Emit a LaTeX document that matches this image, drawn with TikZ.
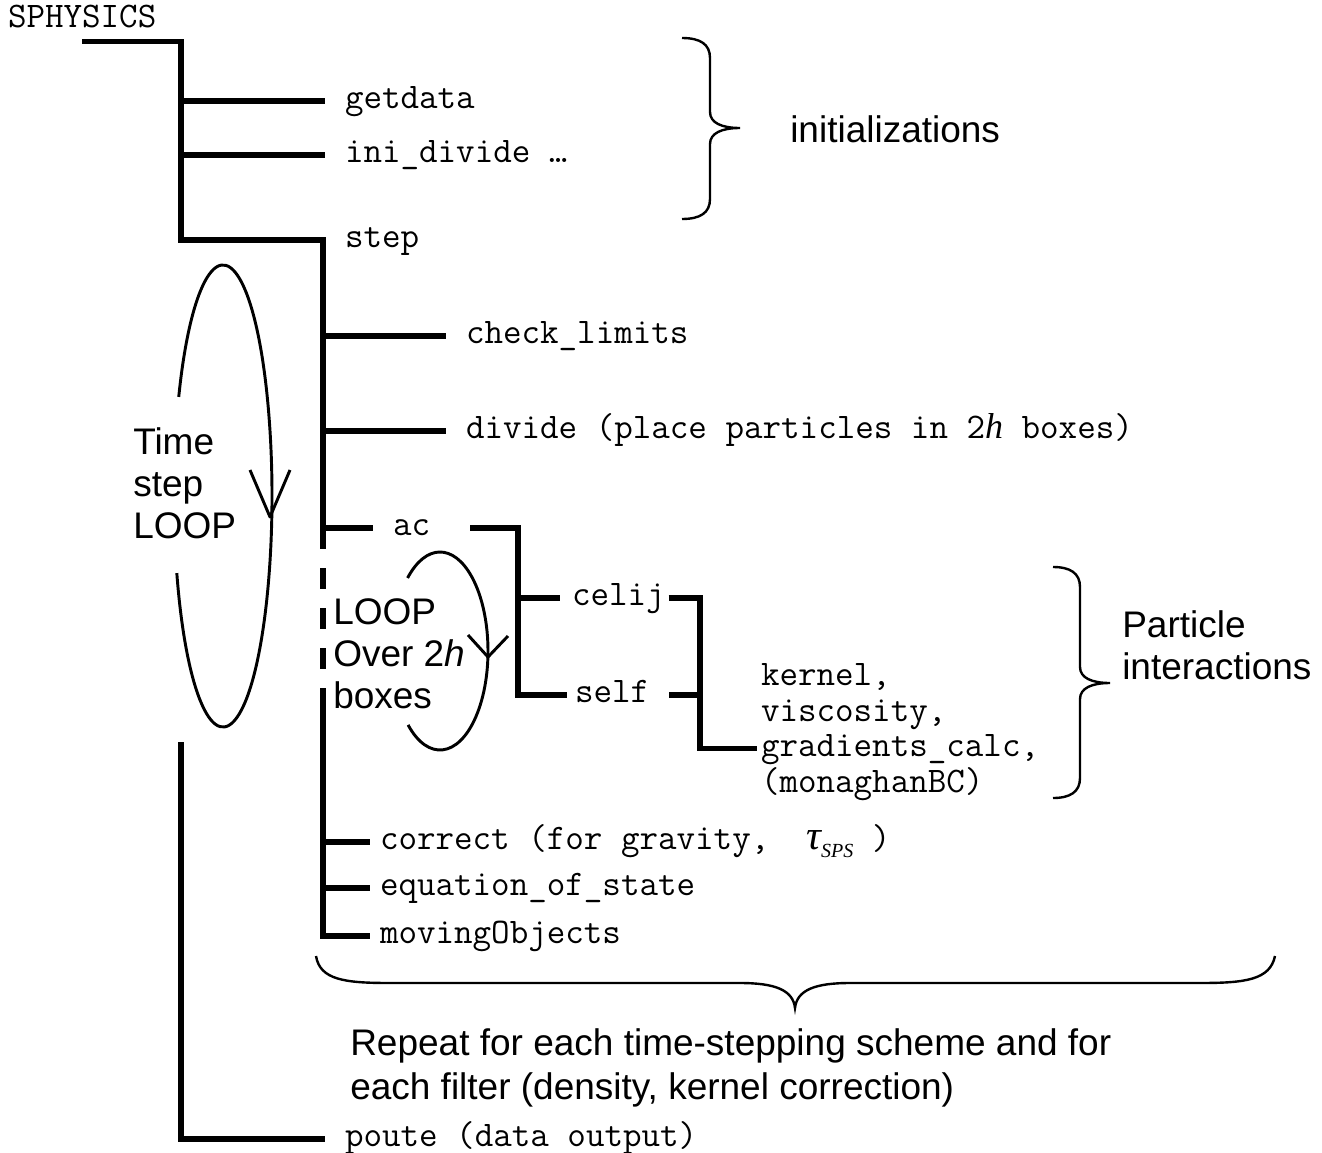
\documentclass[tikz,border=0pt]{standalone}
\usepackage{fontspec}
\setmainfont{Liberation Serif}
\setsansfont{Liberation Sans}
\usetikzlibrary{positioning}

\begin{document}
\begin{tikzpicture}[x=0.75pt, y=0.75pt]
    \tikzstyle{code} = [font=\ttfamily\fontsize{27}{30}\selectfont, inner sep=0pt, outer sep=0pt, text height=11.6pt, text depth=0pt, anchor=west]
    \tikzstyle{note} = [font=\sffamily\fontsize{27.75}{31.5}\selectfont, align=left, inner sep=0pt, anchor=west]
    \tikzstyle{line} = [draw, line width=3.8pt, shorten >=15pt]
    \tikzstyle{loopline} = [draw, line width=2.2pt, line join=round]
    \tikzstyle{bracket} = [draw, line width=1.8pt]

    \useasboundingbox (0,0) rectangle (1322,-1153);

    % Bus lines
    \coordinate (mainbus) at (181,-40);
    \coordinate (stepbus) at (323,-240);
    \coordinate (dashend) at (323,-688);
    \coordinate (acbus) at (518,-528);
    \coordinate (kbus) at (700,-598);
    \coordinate (outbus) at (181,-742);

    % Main program
    \node [code] (sphysics) at (8,-20) {SPHYSICS};

    % Initializations
    \node [code] (getdata) at (345,-101) {getdata};
    \node [code] (inidiv) at (345,-155) {ini\_divide …};

    % Time step
    \node [code] (step) at (345,-240) {step};
    \node [code] (check) at (466,-336) {check\_limits};
    \node [code] (divide) at (466,-431) {divide (place particles in 2{\rmfamily\itshape h} boxes)};

    % Particle interactions
    \node [code] (ac) at (393,-528) {ac};
    \node [code] (celij) at (572,-598) {celij};
    \node [code] (self) at (575,-695) {self};
    \node [code] (kernel) at (761,-678) {kernel,};
    \node [code, below=15pt of kernel.south west, anchor=north west] (viscosity) {viscosity,};
    \node [code, below=15pt of viscosity.south west, anchor=north west] (gradients) {gradients\_calc,};
    \node [code, below=15pt of gradients.south west, anchor=north west] (monaghan) {(monaghanBC)};

    % Update
    \node [code] (correct) at (380,-842) {correct (for gravity,~~{\rmfamily\itshape\fontsize{31}{31}\selectfont τ}{\rmfamily\itshape\fontsize{15}{15}\selectfont\raisebox{-6pt}{SPS}}~)};
    \node [code] (eqstate) at (380,-888) {equation\_of\_state};
    \node [code] (moving) at (380,-936) {movingObjects};

    % Output
    \node [code] (poute) at (345,-1139) {poute (data output)};

    % Comments
    \node [note] (init) at (790,-129) {initializations};
    \node [note] (tsloop) at (133,-483) {Time\\step\\LOOP};
    \node [note] (boxloop) at (333,-654) {LOOP\\Over 2\textit{h}\\boxes};
    \node [note] (partint) at (1122,-645) {Particle\\interactions};
    \node [note, font=\sffamily\fontsize{27.75}{33.5}\selectfont] (repeat) at (350,-1068) {Repeat for each time-stepping scheme and for\\each filter (density, kernel correction)};

    % Lines
    \path [line] ([yshift=-10pt]sphysics.south) -| (step.west -| mainbus) -- (step.west -| stepbus) -- (ac.west -| stepbus) -- (ac.west);
    \path [line] (getdata.west -| mainbus) -- (getdata.west);
    \path [line] (inidiv.west -| mainbus) -- (inidiv.west);
    \path [line] (check.west -| stepbus) -- (check.west);
    \path [line] (divide.west -| stepbus) -- (divide.west);
    \path [line, shorten >=0pt, dash pattern=on 15.75pt off 14.25pt] (ac.west -| stepbus) -- (dashend);
    \path [line, shorten >=7.5pt] (dashend) -- (moving.west -| stepbus) -- (moving.west);
    \path [line, shorten >=7.5pt] (correct.west -| stepbus) -- (correct.west);
    \path [line, shorten >=7.5pt] (eqstate.west -| stepbus) -- (eqstate.west);
    \path [line, shorten <=30pt, shorten >=6pt] (ac.east) -| (self.west -| acbus) -- (self.west);
    \path [line, shorten >=9pt] (celij.west -| acbus) -- (celij.west);
    \path [line, shorten <=3pt, shorten >=3pt] (celij.east) -| (gradients.west -| kbus) -- (gradients.west);
    \path [line, shorten <=15pt, shorten >=0pt] (self.east) -- (self.east -| kbus);
    \path [line] (outbus) |- (poute.west);

    % Loops
    \coordinate (tloop) at (223,-496);
    \coordinate (ttip) at (270,-517);
    \draw [loopline] ([shift={(199.5:36.75pt and 173.25pt)}]tloop) arc [start angle=199.5, end angle=514.6, x radius=36.75pt, y radius=173.25pt];
    \draw [loopline] (ttip) ++(-20,47) -- (ttip) -- ++(20,47);
    \coordinate (bloop) at (440,-651);
    \coordinate (btip) at (488,-657);
    \draw [loopline] ([shift={(228.3:36pt and 74.25pt)}]bloop) arc [start angle=228.3, end angle=492.5, x radius=36pt, y radius=74.25pt];
    \draw [loopline] (btip) ++(-20,22) -- (btip) -- ++(20,21);

    % Braces
    \draw [bracket] (682,-38) .. controls (700,-38) and (710,-44) .. (710,-58) -- (710,-112)
        .. controls (710,-123) and (722,-128) .. (740,-128)
        .. controls (722,-128) and (710,-133) .. (710,-144) -- (710,-199)
        .. controls (710,-213) and (700,-219) .. (682,-219);
    \draw [bracket] (1053,-567) .. controls (1070,-567) and (1080,-573) .. (1080,-587) -- (1080,-667)
        .. controls (1080,-678) and (1092,-683) .. (1110,-683)
        .. controls (1092,-683) and (1080,-688) .. (1080,-699) -- (1080,-778)
        .. controls (1080,-792) and (1070,-798) .. (1053,-798);
    \draw [bracket] (316,-956) .. controls (320,-980) and (345,-983) .. (390,-983) -- (740,-983)
        .. controls (775,-983) and (793,-990) .. (795,-1008)
        .. controls (797,-990) and (815,-983) .. (850,-983) -- (1200,-983)
        .. controls (1245,-983) and (1270,-980) .. (1275,-956);

\end{tikzpicture}
\end{document}
